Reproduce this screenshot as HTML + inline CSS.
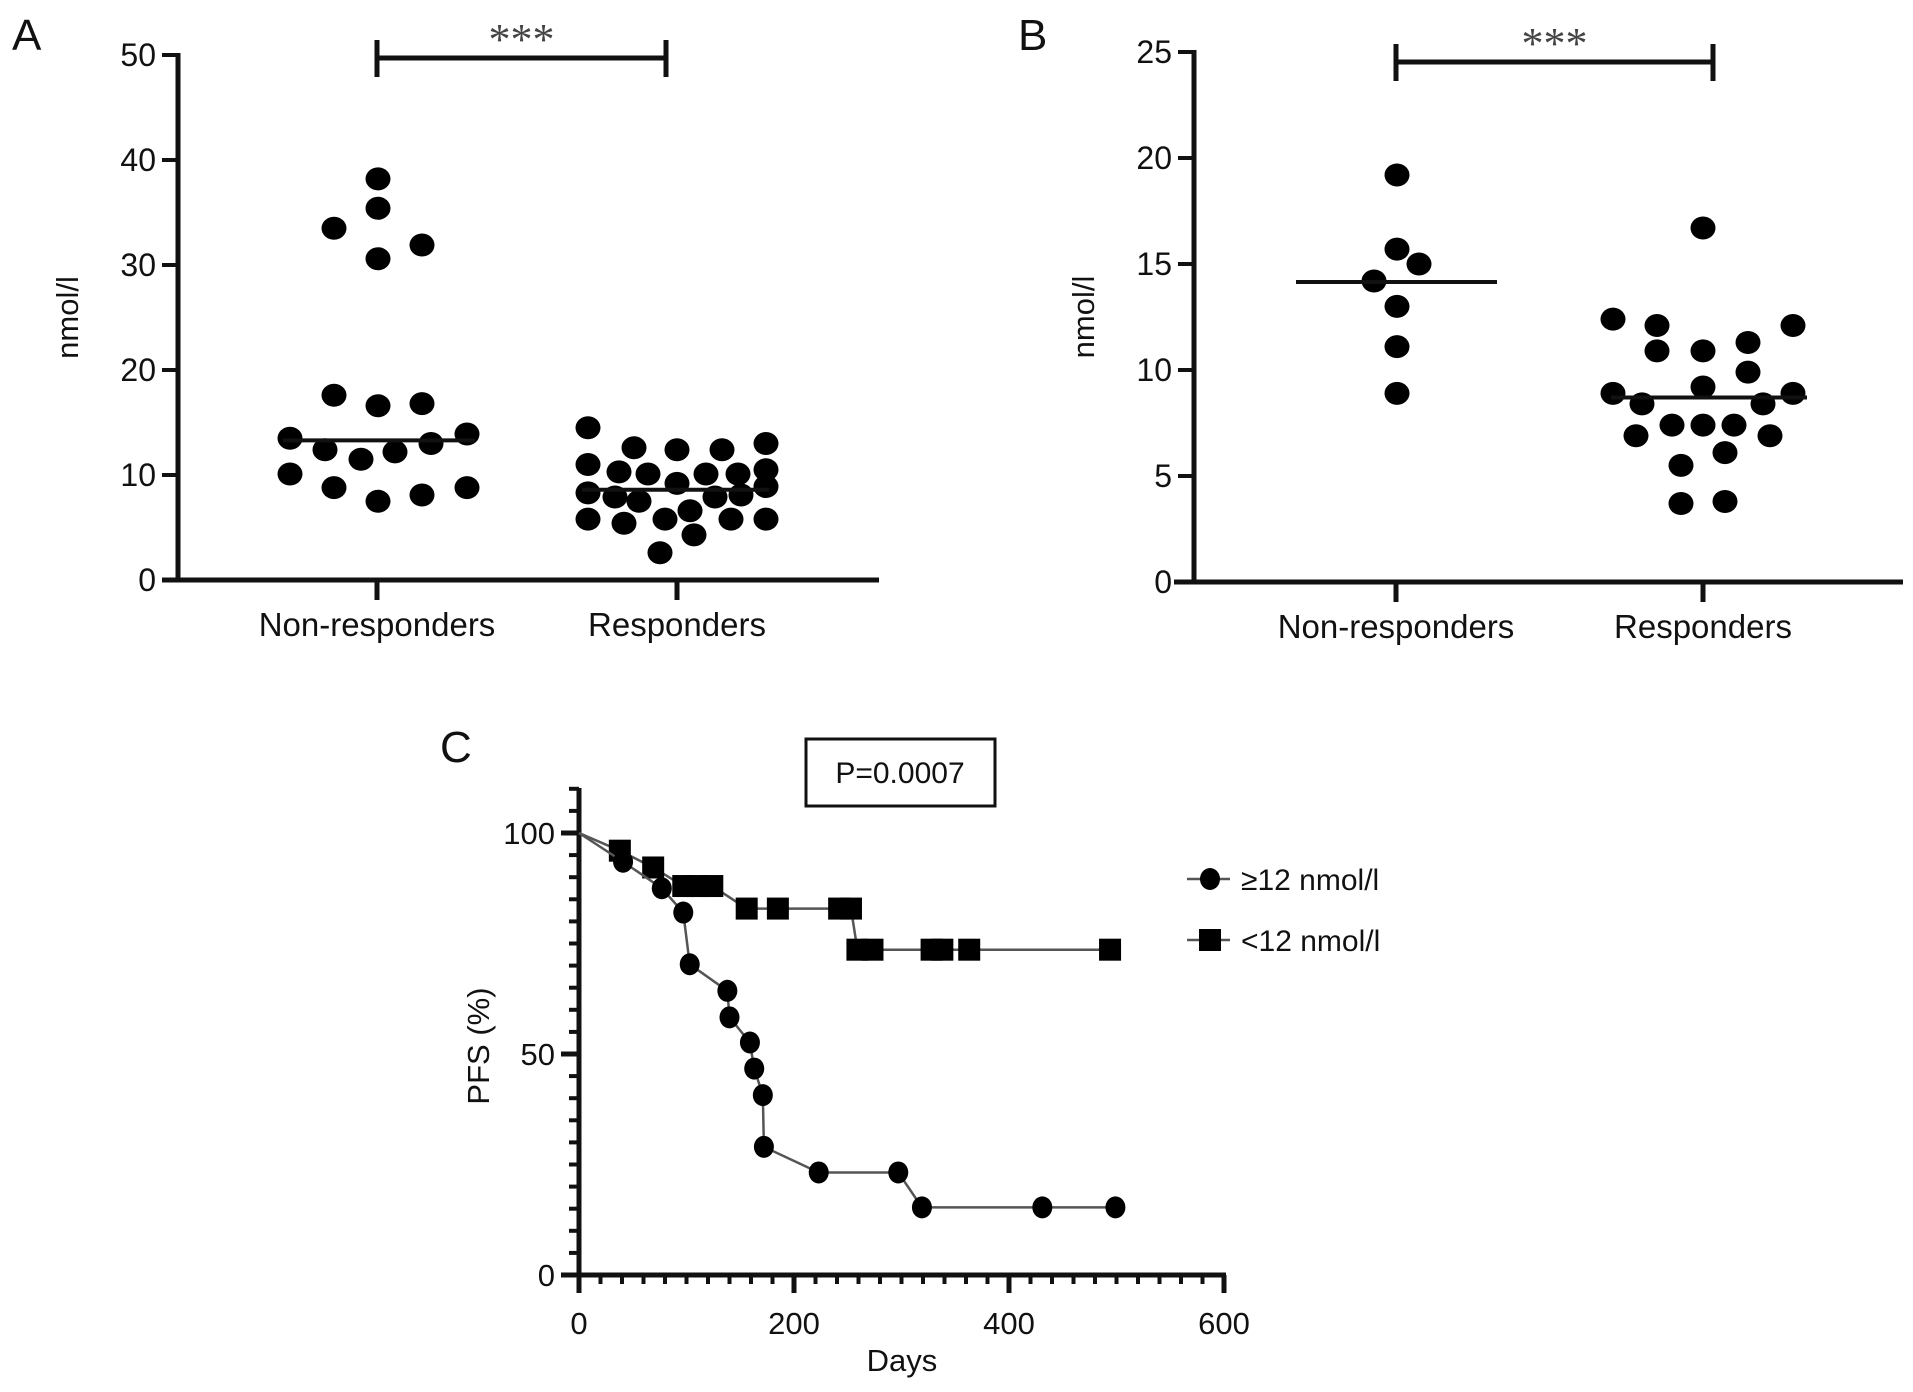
<!DOCTYPE html>
<html><head><meta charset="utf-8"><style>
body{margin:0;background:#fff;overflow:hidden;}
svg text{font-family:"Liberation Sans",Arial,sans-serif;fill:#111;}
</style></head><body>
<svg id="fig" width="1913" height="1387" viewBox="0 0 1913 1387" xmlns="http://www.w3.org/2000/svg">
<g id="pa"></g>
<g id="pb"></g>
<g id="pc"></g>
</svg>
<script>
// Panel A data (values nmol/l, jitter offsets in px from category centre)
const aCategories = ["Non-responders","Responders"];
const aNonVals = [38.2,35.4,33.5,31.9,30.6,17.6,16.6,16.8,13.5,13.9,12.4,12.2,13.0,11.5,10.1,8.8,8.8,7.5,8.1];
const aNonJit  = [1,1,-43,45,1,-43,1,45,-87,90,-52,18,54,-16,-87,-43,90,1,45];
const aResVals = [14.5,12.6,12.4,12.4,13.0,11.0,10.3,10.1,10.1,10.1,10.5,9.2,8.3,7.9,7.5,7.9,8.1,8.9,6.6,5.8,5.4,5.8,5.8,5.8,4.3,2.6];
const aResJit  = [-89,-43,0,45,89,-89,-58,-29,29,61,89,0,-89,-62,-38,38,64,89,13,-89,-53,-12,54,89,17,-17];
const aMedians = [13.3,8.6];
const aTicks = [0,10,20,30,40,50];
// Panel B data
const bCategories = ["Non-responders","Responders"];
const bNonVals = [19.2,15.7,15.0,14.2,13.0,11.1,8.9];
const bNonJit  = [1,1,23,-22,1,1,1];
const bResVals = [16.7,12.4,12.1,12.1,11.3,10.9,10.9,9.9,8.9,9.2,8.9,8.4,8.4,6.9,7.4,7.4,7.4,6.9,6.1,5.5,3.7,3.8];
const bResJit  = [0,-90,-46,90,45,-46,0,45,-90,0,90,-61,60,-67,-31,0,31,67,22,-22,-22,22];
const bMedians = [14.15,8.7];
const bTicks = [0,5,10,15,20,25];
// Panel C data (Kaplan-Meier)
const cHighDays = [0,41,77,97,103,138,140,159,163,171,172,223,297,319,431,499];
const cHighPct  = [100,93.5,87.5,82,70.3,64.3,58.3,52.6,46.7,40.7,29,23.2,23.2,15.3,15.3,15.3];
const cLowDays = [0,38,69,97,110,124,156,185,242,253,259,273,328,338,363,494];
const cLowPct  = [100,96,92.2,88,88,88,82.9,82.9,82.9,82.9,73.6,73.6,73.6,73.6,73.6,73.6];
const cXTicks = [0,200,400,600];
const cYTicks = [0,50,100];
const cLegend = ["\u226512 nmol/l","<12 nmol/l"];

const NS="http://www.w3.org/2000/svg";
function mk(parent,tag,attrs,text){const e=document.createElementNS(NS,tag);for(const k in attrs)e.setAttribute(k,attrs[k]);if(text!==undefined)e.textContent=text;parent.appendChild(e);return e;}

function dotPanel(g,o){
  const y=v=>o.y0-(v/o.vmax)*(o.y0-o.ytop);
  let e=mk(g,'line',{x1:o.ax,y1:o.ytop-2,x2:o.ax,y2:o.y0+2,stroke:'#111','stroke-width':5});
  
  e=mk(g,'line',{x1:o.xl,y1:o.y0,x2:o.xr,y2:o.y0,stroke:'#111','stroke-width':5});
  
  o.ticks.forEach(t=>{
    e=mk(g,'line',{x1:o.ax-16,y1:y(t),x2:o.ax,y2:y(t),stroke:'#111','stroke-width':4});
    
    e=mk(g,'text',{x:o.ax-22,y:y(t)+11,'text-anchor':'end','font-size':32},String(t));
    
  });
  o.cats.forEach((c,i)=>{
    const cx=o.cx[i];
    e=mk(g,'line',{x1:cx,y1:o.y0,x2:cx,y2:o.y0+20,stroke:'#111','stroke-width':5});
    
    e=mk(g,'text',{x:cx,y:o.y0+56,'text-anchor':'middle','font-size':33},c);
    
    const vals=i===0?o.v0:o.v1, jit=i===0?o.j0:o.j1;
    vals.forEach((v,k)=>{
      e=mk(g,'ellipse',{cx:cx+jit[k],cy:y(v),rx:12.5,ry:11.5,fill:'#000'});
      
    });
    e=mk(g,'line',{x1:cx+o.mw[i][0],y1:y(o.med[i]),x2:cx+o.mw[i][1],y2:y(o.med[i]),stroke:'#111','stroke-width':4});
    
  });
  e=mk(g,'path',{d:`M${o.bx1},${o.by-18}V${o.by+19}M${o.bx1},${o.by}H${o.bx2}M${o.bx2},${o.by-18}V${o.by+19}`,stroke:'#111','stroke-width':5,fill:'none'});
  
  e=mk(g,'text',{x:(o.bx1+o.bx2)/2,y:o.by-4,'text-anchor':'middle','font-size':44,style:'font-family:"Liberation Serif",serif;fill:#444'},'***');
  
  e=mk(g,'text',{x:0,y:0,'text-anchor':'middle','font-size':31,transform:`translate(${o.ax-100},${(o.ytop+o.y0)/2}) rotate(-90)`},'nmol/l');
  
  e=mk(g,'text',{x:o.lx,y:50,'font-size':44},o.letter);
  
}
dotPanel(document.getElementById('pa'),{ax:178,ytop:55,y0:580,vmax:50,xl:162,xr:879,cx:[377,677],cats:aCategories,
  ticks:aTicks,v0:aNonVals,j0:aNonJit,v1:aResVals,j1:aResJit,med:aMedians,mw:[[-94,98],[-95,92]],bx1:377,bx2:666,by:58,lx:12,letter:'A'});
dotPanel(document.getElementById('pb'),{ax:1194,ytop:52,y0:582,vmax:25,xl:1174,xr:1903,cx:[1396,1703],cats:bCategories,
  ticks:bTicks,v0:bNonVals,j0:bNonJit,v1:bResVals,j1:bResJit,med:bMedians,mw:[[-100,101],[-92,104]],bx1:1396,bx2:1713,by:62,lx:1018,letter:'B'});

// Panel C
(function(){
  const g=document.getElementById('pc');
  const X=d=>579+d/600*645, Y=p=>1275-p/100*442;
  let e=mk(g,'line',{x1:579,y1:788,x2:579,y2:1277,stroke:'#111','stroke-width':5});
  
  e=mk(g,'line',{x1:562,y1:1275,x2:1226,y2:1275,stroke:'#111','stroke-width':5});
  
  for(let d=0;d<=600;d+=20){const maj=d%200===0;
    e=mk(g,'line',{x1:X(d),y1:1275,x2:X(d),y2:1275+(maj?18:9),stroke:'#111','stroke-width':maj?5:4});
    }
  for(let p=0;p<=110;p+=5){const maj=p%50===0;
    e=mk(g,'line',{x1:579-(maj?18:10),y1:Y(p),x2:579,y2:Y(p),stroke:'#111','stroke-width':maj?5:4});
    }
  cXTicks.forEach(t=>{e=mk(g,'text',{x:X(t),y:1334,'text-anchor':'middle','font-size':31},String(t));
    });
  cYTicks.forEach(t=>{e=mk(g,'text',{x:555,y:Y(t)+11,'text-anchor':'end','font-size':31},String(t));
    });
  e=mk(g,'text',{x:902,y:1371,'text-anchor':'middle','font-size':31},'Days');
  
  e=mk(g,'text',{x:0,y:0,'text-anchor':'middle','font-size':31,transform:'translate(489,1046) rotate(-90)'},'PFS (%)');
  
  e=mk(g,'text',{x:440,y:762,'font-size':44},'C');
  
  e=mk(g,'rect',{x:806,y:739,width:189,height:67,fill:'#fff',stroke:'#111','stroke-width':3});
  
  e=mk(g,'text',{x:900,y:783,'text-anchor':'middle','font-size':30},'P=0.0007');
  
  function series(days,pct,sq,name){
    e=mk(g,'polyline',{points:days.map((d,i)=>X(d)+','+Y(pct[i])).join(' '),fill:'none',stroke:'#555','stroke-width':2.5});
    
    days.forEach((d,i)=>{if(i===0)return;
      if(sq){e=mk(g,'rect',{x:X(d)-11,y:Y(pct[i])-11,width:22,height:22,fill:'#000'});}
      else{e=mk(g,'ellipse',{cx:X(d),cy:Y(pct[i]),rx:10,ry:11,fill:'#000'});}
      });
  }
  series(cLowDays,cLowPct,true,'low-group');
  series(cHighDays,cHighPct,false,'high-group');
  cLegend.forEach((t,i)=>{const ly=879+i*61;
    e=mk(g,'line',{x1:1187,y1:ly,x2:1230,y2:ly,stroke:'#555','stroke-width':2.5});
    
    if(i===1){e=mk(g,'rect',{x:1199,y:ly-11,width:22,height:22,fill:'#000'});}
    else{e=mk(g,'ellipse',{cx:1210,cy:ly,rx:10,ry:11,fill:'#000'});}
    
    e=mk(g,'text',{x:1241,y:ly+11,'font-size':30},t);
    
  });
})();
</script>
</body></html>
